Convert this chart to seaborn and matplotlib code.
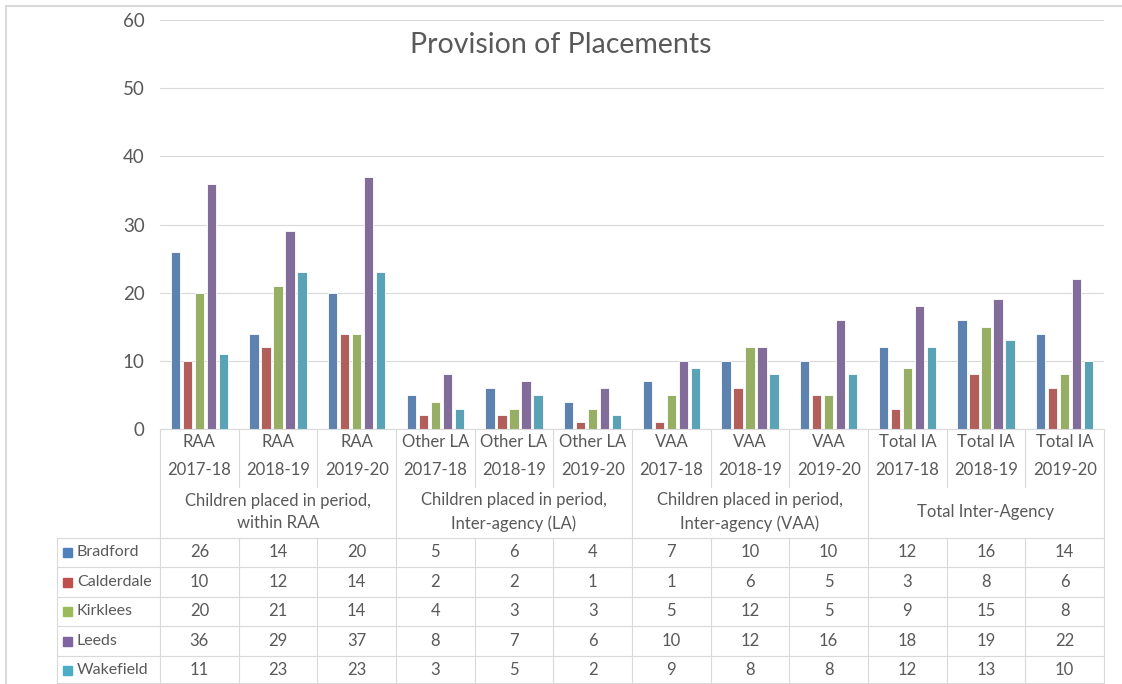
# Imports
import pandas as pd
import seaborn as sns
import matplotlib.pyplot as plt
from matplotlib.lines import Line2D
from matplotlib.patches import Rectangle
from matplotlib.transforms import blended_transform_factory

# data
authorities = ['Bradford', 'Calderdale', 'Kirklees', 'Leeds', 'Wakefield']
types = ['RAA', 'RAA', 'RAA', 'Other LA', 'Other LA', 'Other LA',
         'VAA', 'VAA', 'VAA', 'Total IA', 'Total IA', 'Total IA']
years = ['2017-18', '2018-19', '2019-20'] * 4
groups = ['Children placed in period,\nwithin RAA',
          'Children placed in period,\nInter-agency (LA)',
          'Children placed in period,\nInter-agency (VAA)',
          'Total Inter-Agency']
bradford = [26, 14, 20, 5, 6, 4, 7, 10, 10, 12, 16, 14]
calderdale = [10, 12, 14, 2, 2, 1, 1, 6, 5, 3, 8, 6]
kirklees = [20, 21, 14, 4, 3, 3, 5, 12, 5, 9, 15, 8]
leeds = [36, 29, 37, 8, 7, 6, 10, 12, 16, 18, 19, 22]
wakefield = [11, 23, 23, 3, 5, 2, 9, 8, 8, 12, 13, 10]
colors = ['#4F81BD', '#C0504D', '#9BBB59', '#8064A2', '#4BACC6']

series = [bradford, calderdale, kirklees, leeds, wakefield]
categories = [t + '\n' + y for t, y in zip(types, years)]

rows = []
for name, vals in zip(authorities, series):
    for cat, v in zip(categories, vals):
        rows.append({'category': cat, 'authority': name, 'value': v})
df = pd.DataFrame(rows)

# style
sns.set_style('white')
plt.rcParams['font.family'] = ['Lato', 'DejaVu Sans']
txt = '#595959'
line_c = '#d9d9d9'

W, H = 1122, 684
fig = plt.figure(figsize=(W / 100, H / 100), dpi=100)
ax = fig.add_axes([160 / W, 1 - 429 / H, (1104 - 160) / W, (429 - 20) / H])

sns.barplot(data=df, x='category', y='value', hue='authority', order=categories,
            hue_order=authorities, palette=colors, width=0.76, gap=0.22,
            edgecolor='white', linewidth=0.6, legend=False, ax=ax)

ax.set_xlim(-0.5, len(categories) - 0.5)
ax.set_ylim(0, 60)
ax.set_yticks(range(0, 61, 10))
ax.tick_params(axis='y', length=0, labelsize=13.5, labelcolor=txt, pad=11)
ax.set_xticks([])
ax.set_xlabel('')
ax.set_ylabel('')
ax.grid(axis='y', color=line_c, linewidth=0.8)
ax.set_axisbelow(True)
for s in ['top', 'right', 'left']:
    ax.spines[s].set_visible(False)
ax.spines['bottom'].set_color(line_c)
ax.spines['bottom'].set_linewidth(0.8)

fig.text(W / 2 / W, 1 - 45 / H, 'Provision of Placements', ha='center', va='center',
         fontsize=20.5, color=txt)

# data table below the chart (x in data coords, y in figure pixels)
tr = blended_transform_factory(ax.transData, fig.transFigure)


def fy(py):
    return 1 - py / H


def vline(x, y0, y1, transform=tr):
    fig.add_artist(Line2D([x, x], [fy(y0), fy(y1)], transform=transform,
                          color=line_c, linewidth=0.8))


def hline(x0, x1, y):
    fig.add_artist(Line2D([x0 / W, x1 / W], [fy(y), fy(y)], transform=fig.transFigure,
                          color=line_c, linewidth=0.8))


n = len(categories)
for k in range(n + 1):
    x = k - 0.5
    if k % 3 == 0:
        vline(x, 429, 684)
    else:
        vline(x, 429, 487)
        vline(x, 538, 684)
vline(57 / W, 538, 684, transform=fig.transFigure)
for py in [538, 567, 597, 626, 656, 683]:
    hline(57, 1104, py)

fs = 12
# category labels
for i, (t, y) in enumerate(zip(types, years)):
    fig.text(i, fy(442), t, transform=tr, ha='center', va='center', fontsize=fs, color=txt)
    fig.text(i, fy(470), y, transform=tr, ha='center', va='center', fontsize=fs, color=txt)

# group labels
for g, label in enumerate(groups):
    fig.text(3 * g + 1, fy(512), label, transform=tr, ha='center', va='center',
             fontsize=fs, color=txt, linespacing=1.5)

# values and legend keys
row_y = [552, 582, 611, 641, 670]
for name, vals, c, py in zip(authorities, series, colors, row_y):
    fig.add_artist(Rectangle((63 / W, fy(py + 5)), 9 / W, 9 / H,
                             transform=fig.transFigure, color=c))
    fig.text(77 / W, fy(py), name, ha='left', va='center', fontsize=11.5, color=txt)
    for i, v in enumerate(vals):
        fig.text(i, fy(py), str(v), transform=tr, ha='center', va='center',
                 fontsize=fs, color=txt)

# outer chart border (top and left visible)
fig.add_artist(Line2D([6 / W, 6 / W], [fy(6), 0], transform=fig.transFigure, color=line_c, linewidth=1.5))
fig.add_artist(Line2D([6 / W, 1], [fy(6), fy(6)], transform=fig.transFigure, color=line_c, linewidth=1.5))

fig.savefig('out.png', dpi=100)
